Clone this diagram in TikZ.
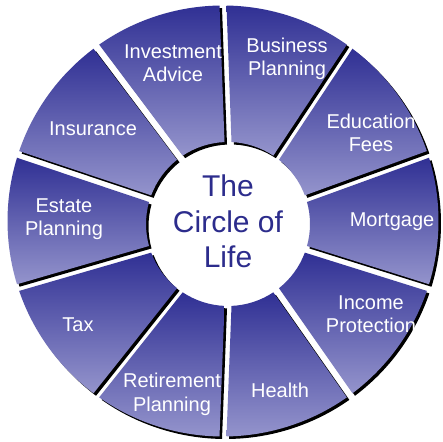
\documentclass[tikz,border=0pt]{standalone}
\usepackage{fontspec}
\setmainfont{Liberation Sans}
\usetikzlibrary{calc}
\definecolor{ringtop}{RGB}{48,48,148}
\definecolor{ringbottom}{RGB}{148,148,204}
\definecolor{hubtext}{RGB}{44,44,140}
\tikzset{
  segment/.style={top color=ringtop, bottom color=ringbottom, draw=none},
  segshadow/.style={fill=black, transform canvas={shift={(2.5pt,-2.5pt)}}},
  seglabel/.style={text=white, font=\fontsize{20}{23.5}\selectfont, align=center, anchor=base, inner sep=0pt},
  hublabel/.style={text=hubtext, font=\fontsize{30}{35.5}\selectfont, align=center, anchor=base, inner sep=0pt}
}
\begin{document}
\begin{tikzpicture}[x=1pt,y=1pt]
	\fill[white] (0,0) rectangle (443,441);
	\useasboundingbox (0,0) rectangle (443,441);
	\coordinate (co) at (223,220);
	\coordinate (ci) at (228,217);
	\pgfmathsetmacro\ro{215.5}
	\pgfmathsetmacro\ri{82}
	\pgfmathsetmacro\dout{asin(3.5/\ro)}
	\pgfmathsetmacro\din{asin(3.5/\ri)}
	\foreach \a in {90,54,18,-18,-54,-90,-126,-162,-198,-234}{
		\pgfmathsetmacro\b{\a-36}
		\foreach \sty in {segshadow,segment}{
			\path[\sty] ($(ci)+(\b+\din:\ri)$) -- ($(co)+(\b+\dout:\ro)$)
				arc[start angle=\b+\dout, end angle=\a-\dout, radius=\ro]
				-- ($(ci)+(\a-\din:\ri)$)
				arc[start angle=\a-\din, end angle=\b+\din, radius=\ri] -- cycle;
		}
	}
	\node[seglabel] (invest) at (173,359) {Investment\\Advice};
	\node[seglabel] (business) at (287,365) {Business\\Planning};
	\node[seglabel] (education) at (371,289) {Education\\Fees};
	\node[seglabel] (mortgage) at (392,214) {Mortgage};
	\node[seglabel] (income) at (371,108) {Income\\Protection};
	\node[seglabel] (health) at (280,44) {Health};
	\node[seglabel] (retire) at (172,30) {Retirement\\Planning};
	\node[seglabel] (tax) at (78,110) {Tax};
	\node[seglabel] (estate) at (64,205) {Estate\\Planning};
	\node[seglabel] (insurance) at (93,305) {Insurance};
	\node[hublabel] (hub) at (228,173) {The\\Circle of\\Life};
\end{tikzpicture}
\end{document}
